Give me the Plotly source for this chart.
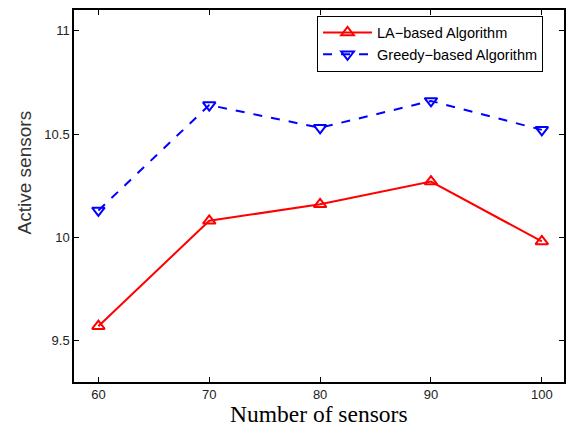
import plotly.graph_objects as go

num_sensors = [60, 70, 80, 90, 100]
la_based = [9.57, 10.08, 10.16, 10.27, 9.98]
greedy_based = [10.13, 10.64, 10.53, 10.66, 10.52]
x_ticks = [60, 70, 80, 90, 100]
y_ticks = [9.5, 10, 10.5, 11]

fig = go.Figure()
fig.add_trace(go.Scatter(
    x=num_sensors, y=la_based, mode="lines+markers",
    name="LA\u2212based Algorithm",
    line=dict(color="#ff0000", width=2),
    marker=dict(symbol="triangle-up-open", size=11, color="#ff0000", line=dict(width=2)),
))
fig.add_trace(go.Scatter(
    x=num_sensors, y=greedy_based, mode="lines+markers",
    name="Greedy\u2212based Algorithm",
    line=dict(color="#0000ff", width=2, dash="dash"),
    marker=dict(symbol="triangle-down-open", size=11, color="#0000ff", line=dict(width=2)),
))

axis_common = dict(
    showline=True, linecolor="black", linewidth=1.5, mirror="ticks",
    ticks="inside", ticklen=5, tickcolor="black", tickwidth=1,
    showgrid=False, zeroline=False,
    tickfont=dict(family="Liberation Sans, Arial", size=13, color="#222222"),
)

fig.update_layout(
    width=572, height=426,
    margin=dict(l=74, r=6, t=10, b=44),
    paper_bgcolor="white", plot_bgcolor="white",
    xaxis=dict(range=[57.8, 102], tickvals=x_ticks, **axis_common),
    yaxis=dict(range=[9.3, 11.1], tickvals=y_ticks, ticktext=["9.5", "10", "10.5", "11"],
               **axis_common),
    annotations=[
        dict(text="Active sensors", textangle=-90, xref="paper", yref="paper",
             x=-0.1016, y=0.564, xanchor="center", yanchor="middle", showarrow=False,
             font=dict(family="Liberation Sans, Arial", size=19, color="#333333")),
        dict(text="Number of sensors", xref="paper", yref="paper",
             x=0.5, y=-0.086, xanchor="center", yanchor="middle", showarrow=False,
             font=dict(family="Liberation Serif, Times New Roman", size=23.5, color="black")),
    ],
    legend=dict(x=0.496, y=0.985, xanchor="left", yanchor="top",
                bordercolor="black", borderwidth=1, bgcolor="white",
                font=dict(family="Liberation Sans, Arial", size=14.5, color="black"),
                tracegroupgap=0, itemwidth=49),
    showlegend=True,
)

fig.write_html("out.html")
